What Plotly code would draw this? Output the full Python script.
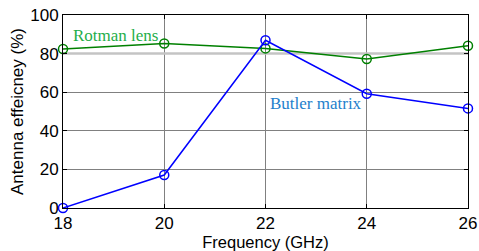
import plotly.graph_objects as go

freq = [18, 20, 22, 24, 26]
rotman = [82.4, 85.2, 82.7, 77.2, 84.1]
butler = [0.0, 17.1, 86.9, 59.2, 51.6]
x_ticks = [18, 20, 22, 24, 26]
y_ticks = [0, 20, 40, 60, 80, 100]

fig = go.Figure()
fig.add_shape(type="line", xref="x", yref="y", x0=18, x1=26, y0=80, y1=80,
              line=dict(color="#c4c4c4", width=2.5), layer="between")
fig.add_trace(go.Scatter(x=freq, y=rotman, mode="lines+markers",
                         line=dict(color="#008000", width=1.5),
                         marker=dict(symbol="circle-open", size=9, color="#008000", line=dict(width=1.5)),
                         showlegend=False, cliponaxis=False))
fig.add_trace(go.Scatter(x=freq, y=butler, mode="lines+markers",
                         line=dict(color="#0000ff", width=1.5),
                         marker=dict(symbol="circle-open", size=9, color="#0000ff", line=dict(width=1.5)),
                         showlegend=False, cliponaxis=False))

fig.add_annotation(x=19.03, y=89.6, text="Rotman lens", showarrow=False,
                   font=dict(family="Liberation Serif", size=17, color="#1fae4a"))
fig.add_annotation(x=23.0, y=54.4, text="Butler matrix", showarrow=False,
                   font=dict(family="Liberation Serif", size=17, color="#2380cc"))

axis_common = dict(showline=True, linecolor="black", linewidth=1, mirror="ticks",
                   ticks="inside", ticklen=4, tickcolor="black",
                   showgrid=True, gridcolor="#808080", gridwidth=1, zeroline=False,
                   automargin=False,
                   tickfont=dict(family="Liberation Sans", size=17, color="black"))

fig.update_xaxes(range=[18, 26], tickvals=x_ticks,
                 title=dict(text="Frequency (GHz)", font=dict(family="Liberation Sans", size=16.5, color="black"), standoff=0),
                 **axis_common)
fig.update_yaxes(range=[0, 100], tickvals=y_ticks,
                 title=dict(text="Antenna effeicney (%)", font=dict(family="Liberation Sans", size=17, color="black"), standoff=2),
                 **axis_common)

fig.update_layout(width=479, height=251, margin=dict(l=63, r=11, t=15, b=43),
                  plot_bgcolor="white", paper_bgcolor="white")

fig.write_html("out.html", config={"displayModeBar": False},
               post_script="document.body.style.margin='0';")
